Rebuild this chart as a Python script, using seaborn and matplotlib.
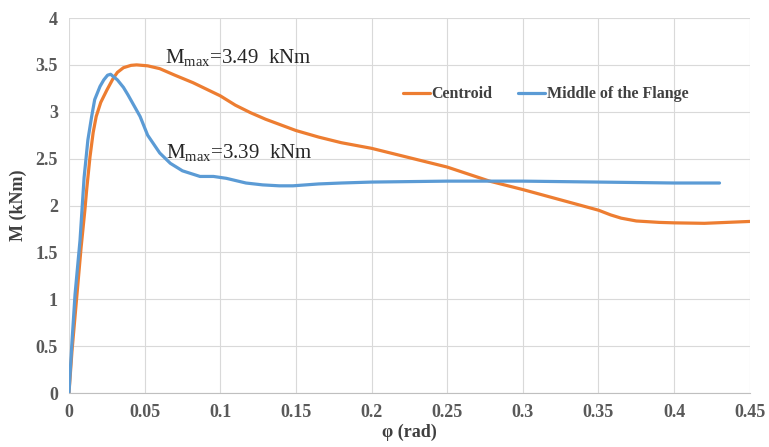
import numpy as np
import pandas as pd
import matplotlib
matplotlib.use('Agg')
import matplotlib.pyplot as plt
import seaborn as sns

# Centroid curve
phi_centroid = [0, 0.002, 0.005, 0.008, 0.0105, 0.0117, 0.0139, 0.016, 0.018, 0.021,
                0.025, 0.029, 0.032, 0.036, 0.041, 0.0447, 0.052, 0.060, 0.070, 0.082,
                0.10, 0.11, 0.12, 0.13, 0.14, 0.15, 0.165, 0.18, 0.20, 0.225,
                0.25, 0.278, 0.30, 0.325, 0.35, 0.358, 0.365, 0.375, 0.39, 0.40,
                0.42, 0.45]
m_centroid = [0, 0.45, 1.0, 1.55, 1.95, 2.17, 2.52, 2.78, 2.95, 3.10,
              3.23, 3.35, 3.42, 3.47, 3.495, 3.50, 3.49, 3.46, 3.39, 3.31,
              3.17, 3.07, 2.99, 2.92, 2.86, 2.80, 2.73, 2.67, 2.61, 2.51,
              2.41, 2.26, 2.17, 2.06, 1.95, 1.90, 1.865, 1.835, 1.82, 1.815,
              1.81, 1.83]

# Middle of the flange curve
phi_flange = [0, 0.002, 0.004, 0.0073, 0.010, 0.0125, 0.015, 0.017, 0.0205, 0.023,
              0.0255, 0.0275, 0.029, 0.032, 0.036, 0.039, 0.047, 0.052, 0.060, 0.067,
              0.075, 0.0866, 0.0955, 0.104, 0.117, 0.128, 0.139, 0.148, 0.165, 0.18,
              0.20, 0.25, 0.278, 0.30, 0.35, 0.40, 0.43]
m_flange = [0, 0.55, 1.05, 1.63, 2.3, 2.7, 2.95, 3.13, 3.27, 3.34,
            3.39, 3.40, 3.38, 3.34, 3.26, 3.18, 2.95, 2.75, 2.56, 2.45,
            2.37, 2.31, 2.31, 2.29, 2.24, 2.22, 2.21, 2.21, 2.23, 2.24,
            2.25, 2.26, 2.26, 2.26, 2.25, 2.24, 2.24]

series_names = ['Centroid', 'Middle of the Flange']
series_colors = ['#ED7D31', '#5B9BD5']
x_ticks = [0, 0.05, 0.1, 0.15, 0.2, 0.25, 0.3, 0.35, 0.4, 0.45]
y_ticks = [0, 0.5, 1, 1.5, 2, 2.5, 3, 3.5, 4]

df = pd.concat([
    pd.DataFrame({'phi': phi_centroid, 'M': m_centroid, 'series': series_names[0]}),
    pd.DataFrame({'phi': phi_flange, 'M': m_flange, 'series': series_names[1]}),
], ignore_index=True)

sns.set_style('whitegrid')
plt.rcParams['font.family'] = ['Liberation Serif', 'DejaVu Serif']

fig = plt.figure(figsize=(7.69, 4.47), dpi=100)
ax = fig.add_axes([0.0897, 0.1208, 0.8853, 0.8389])

sns.lineplot(data=df, x='phi', y='M', hue='series', palette=series_colors,
             hue_order=series_names, sort=False, estimator=None, linewidth=2.3,
             ax=ax)

ax.set_xlim(0, 0.45)
ax.set_ylim(0, 4)
ax.set_xticks(x_ticks)
ax.set_xticklabels([f'{t:g}' for t in x_ticks])
ax.set_yticks(y_ticks)
ax.set_yticklabels([f'{t:g}' for t in y_ticks])
ax.grid(True, color='#d9d9d9', linewidth=0.8)
for side in ['top', 'right', 'left']:
    ax.spines[side].set_visible(False)
ax.spines['bottom'].set_color('#bfbfbf')
ax.tick_params(axis='both', length=0, labelsize=13, labelcolor='#595959', pad=8)
for lbl in ax.get_xticklabels() + ax.get_yticklabels():
    lbl.set_fontweight('bold')

ax.set_xlabel('φ (rad)', fontsize=13, fontweight='bold', color='#404040', labelpad=2)
ax.set_ylabel('M (kNm)', fontsize=13, fontweight='bold', color='#404040', labelpad=6)

ax.text(0.0635, 3.57, r'M$_{\mathregular{max}}$=3.49  kNm', fontsize=15, va='center')
ax.text(0.064, 2.56, r'M$_{\mathregular{max}}$=3.39  kNm', fontsize=15, va='center')

leg = ax.legend(loc='center', bbox_to_anchor=(0.70, 0.797), ncol=2, frameon=False,
                handlelength=1.7, handletextpad=0.1, columnspacing=1.6,
                prop={'weight': 'bold', 'size': 11.5})
for t in leg.get_texts():
    t.set_color('#404040')

fig.savefig('out.png', dpi=100)
